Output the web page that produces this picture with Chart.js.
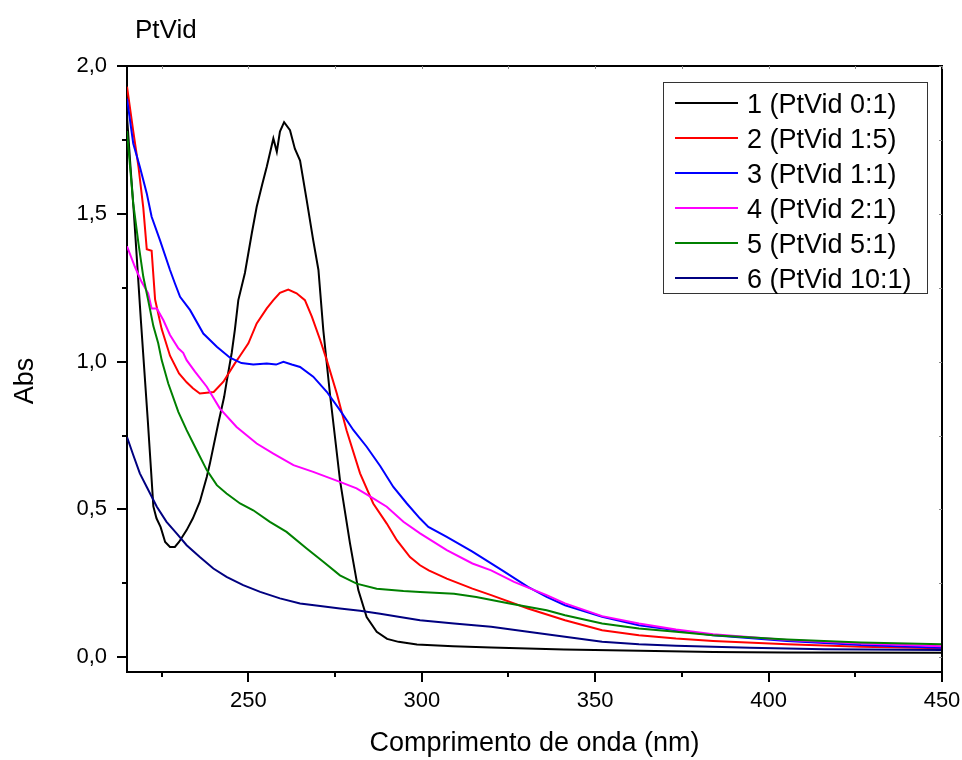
<!DOCTYPE html>
<html>
<head>
<meta charset="utf-8">
<script src="https://cdn.jsdelivr.net/npm/chart.js@4.4.1/dist/chart.umd.min.js"></script>
<style>
html, body { margin: 0; padding: 0; background: #fff; }
#wrap { width: 962px; height: 760px; }
</style>
</head>
<body>
<div id="wrap"><canvas id="spectra" width="962" height="760"></canvas></div>
<script>
// wavelengths (nm) and absorbance, one pair per sample
const wl1 = [215,216,217,218,219,220,221,222,222.6,223.5,224.7,226,227.4,228.8,230,232.2,234,236,238,238.9,241.3,243,243.7,245.2,246.1,247.1,249,251,252.4,254,255.3,257.2,258.2,259.1,260.3,262,263.4,264.9,266.8,268.7,270.2,271.6,273.5,276.4,279.3,281.7,284.1,287,290,293.3,298.6,309,320,341,363,384,405,450];
const abs1 = [1.83,1.66,1.50,1.32,1.14,0.97,0.80,0.62,0.51,0.47,0.44,0.39,0.373,0.373,0.39,0.43,0.47,0.526,0.61,0.655,0.79,0.88,0.93,1.03,1.107,1.208,1.30,1.435,1.524,1.60,1.659,1.755,1.71,1.778,1.81,1.783,1.72,1.68,1.547,1.41,1.31,1.107,0.893,0.60,0.385,0.227,0.136,0.086,0.062,0.052,0.043,0.037,0.033,0.026,0.022,0.018,0.016,0.015];

const wl2 = [215,216.8,218.3,219.7,220.7,222.1,223.1,225,227.4,230,232.2,234,236,238,240,242.8,246.1,247.6,250,252.4,255.3,257.2,259.1,261.5,263.9,266.3,268.3,270.7,272.6,275.5,278.3,282.2,286,289.9,292.8,296.6,299.5,302,307.2,314.6,320,330.6,341.3,352,362.6,373.3,384,405.3,426.6,450];
const abs2 = [1.93,1.78,1.66,1.52,1.38,1.375,1.21,1.11,1.02,0.96,0.93,0.91,0.892,0.895,0.897,0.932,0.994,1.02,1.062,1.129,1.18,1.208,1.233,1.244,1.231,1.208,1.152,1.073,1.005,0.892,0.768,0.622,0.52,0.452,0.396,0.339,0.311,0.294,0.266,0.232,0.21,0.165,0.125,0.091,0.074,0.063,0.055,0.044,0.035,0.03];

const wl3 = [215,216.8,218.7,220.7,222.1,224.5,227.4,228.8,230.3,233.2,237,240.9,244.7,248,251.4,255.3,258,260.1,262.5,264.9,268.7,272.6,276.4,280.3,284.1,288,291.8,295.7,299.5,301.9,307.2,314.6,323.2,330.6,336,341.3,352,362.6,373.3,384,405.3,426.6,450];
const abs3 = [1.89,1.738,1.659,1.569,1.49,1.411,1.31,1.265,1.219,1.174,1.095,1.05,1.013,0.995,0.99,0.994,0.99,0.999,0.99,0.982,0.949,0.898,0.836,0.768,0.712,0.647,0.576,0.52,0.469,0.441,0.407,0.357,0.294,0.238,0.204,0.176,0.137,0.108,0.091,0.074,0.055,0.041,0.032];

const wl4 = [215,217.3,219.2,221.1,222.1,223.6,225.5,227.4,229.8,231.2,232.2,234.6,238,241.8,246.6,252.4,257.2,263,268.7,276.4,281.2,286,289.9,294.7,299.5,307.2,314.6,320,326.6,336,341.3,352,362.6,373.3,384,405.3,426.6,450];
const abs4 = [1.39,1.32,1.27,1.231,1.18,1.18,1.14,1.09,1.045,1.03,1.005,0.966,0.915,0.841,0.779,0.723,0.689,0.65,0.627,0.593,0.571,0.537,0.509,0.458,0.419,0.362,0.317,0.294,0.255,0.21,0.182,0.139,0.114,0.094,0.078,0.058,0.046,0.037];

const wl5 = [215,216.8,218.3,219.7,221.1,222.6,224,225,226.9,229.8,232.2,235.1,238,240.9,243.7,247.6,251.4,256.2,261,266.8,271.6,276.4,281.2,287,294.7,299.5,309.3,315.7,325.3,336,341.3,352,362.6,373.3,384,405.3,426.6,450];
const abs5 = [1.78,1.535,1.40,1.287,1.208,1.12,1.062,1.005,0.926,0.83,0.768,0.70,0.633,0.582,0.554,0.52,0.497,0.458,0.424,0.368,0.323,0.277,0.249,0.232,0.224,0.221,0.215,0.204,0.182,0.159,0.142,0.114,0.097,0.086,0.074,0.06,0.05,0.044];

const wl6 = [215,216.8,218.7,220.7,223.6,226.4,229.3,232.2,236,239.9,243.7,248.5,253.4,259.1,264.9,270.7,276.4,282.2,288,293.7,299.5,309.3,320,330.6,341.3,352,362.6,373.3,394.6,416,450];
const abs6 = [0.745,0.684,0.622,0.576,0.509,0.458,0.419,0.379,0.339,0.30,0.272,0.244,0.221,0.199,0.182,0.173,0.165,0.157,0.147,0.136,0.125,0.114,0.103,0.086,0.069,0.052,0.044,0.039,0.032,0.027,0.024];

const seriesLabels = ['1 (PtVid 0:1)', '2 (PtVid 1:5)', '3 (PtVid 1:1)', '4 (PtVid 2:1)', '5 (PtVid 5:1)', '6 (PtVid 10:1)'];
const seriesColors = ['#000000', '#ff0000', '#0000ff', '#ff00ff', '#008000', '#000080'];
const xTicks = [250, 300, 350, 400, 450];
const xMinorTicks = [225, 275, 325, 375, 425];
const yTicks = [0, 0.5, 1.0, 1.5, 2.0];
const yMinorTicks = [0.25, 0.75, 1.25, 1.75];

const wls = [wl1, wl2, wl3, wl4, wl5, wl6];
const absVals = [abs1, abs2, abs3, abs4, abs5, abs6];

let datasets = [];
for (let i = 0; i < wls.length; i++) {
    datasets.push({
        label: seriesLabels[i],
        data: wls[i].map((w, j) => ({ x: w, y: absVals[i][j] })),
        borderColor: seriesColors[i],
        backgroundColor: seriesColors[i],
        borderWidth: 2,
        pointRadius: 0,
        showLine: true,
        tension: 0,
        order: wls.length - i
    });
}

const FONT = "'Liberation Sans', Arial, sans-serif";

// frame, minor ticks, title, y title and the boxed legend
const extras = {
    id: 'extras',
    afterDraw(chart) {
        const ctx = chart.ctx;
        const a = chart.chartArea;
        const x = chart.scales.x;
        const y = chart.scales.y;
        ctx.save();
        ctx.strokeStyle = '#000';
        ctx.lineWidth = 2;
        ctx.beginPath();
        ctx.moveTo(a.left, a.top);
        ctx.lineTo(a.right, a.top);
        ctx.lineTo(a.right, a.bottom);
        ctx.stroke();

        ctx.beginPath();
        xMinorTicks.forEach(v => {
            const px = Math.round(x.getPixelForValue(v));
            ctx.moveTo(px, a.bottom);
            ctx.lineTo(px, a.bottom + 5);
        });
        yMinorTicks.forEach(v => {
            const py = Math.round(y.getPixelForValue(v));
            ctx.moveTo(a.left, py);
            ctx.lineTo(a.left - 5, py);
        });
        ctx.stroke();

        // faint inner ticks on top and right
        ctx.strokeStyle = '#888';
        ctx.lineWidth = 1;
        ctx.beginPath();
        xTicks.concat(xMinorTicks).forEach(v => {
            const px = Math.round(x.getPixelForValue(v)) + 0.5;
            ctx.moveTo(px, a.top);
            ctx.lineTo(px, a.top + 3);
        });
        yTicks.concat(yMinorTicks).forEach(v => {
            const py = Math.round(y.getPixelForValue(v)) + 0.5;
            ctx.moveTo(a.right, py);
            ctx.lineTo(a.right - 3, py);
        });
        ctx.stroke();

        ctx.fillStyle = '#000';
        ctx.font = '26px ' + FONT;
        ctx.textAlign = 'left';
        ctx.textBaseline = 'alphabetic';
        ctx.fillText('PtVid', 135, 38);

        ctx.save();
        ctx.translate(33, 381);
        ctx.rotate(-Math.PI / 2);
        ctx.textAlign = 'center';
        ctx.font = '27px ' + FONT;
        ctx.fillText('Abs', 0, 0);
        ctx.restore();

        // legend
        ctx.strokeStyle = '#333';
        ctx.lineWidth = 1;
        ctx.fillStyle = '#fff';
        ctx.fillRect(663, 82, 264, 211);
        ctx.strokeRect(663.5, 82.5, 264, 211);
        ctx.font = '27px ' + FONT;
        chart.data.datasets.forEach((ds, i) => {
            const base = 113 + i * 35;
            ctx.strokeStyle = ds.borderColor;
            ctx.lineWidth = 2;
            ctx.beginPath();
            ctx.moveTo(675, base - 10);
            ctx.lineTo(738, base - 10);
            ctx.stroke();
            ctx.fillStyle = '#000';
            ctx.fillText(ds.label, 747, base);
        });
        ctx.restore();
    }
};

const spectraChart = new Chart(document.getElementById('spectra').getContext('2d'), {
    type: 'scatter',
    data: { datasets: datasets },
    options: {
        responsive: false,
        animation: false,
        devicePixelRatio: 1,
        layout: { padding: { left: 0, right: 20, top: 66, bottom: 0 } },
        plugins: {
            legend: { display: false },
            tooltip: { enabled: false }
        },
        scales: {
            x: {
                type: 'linear',
                min: 215,
                max: 450,
                afterBuildTicks: s => { s.ticks = xTicks.map(v => ({ value: v })); },
                afterFit: s => { s.height = 88; s.paddingLeft = 0; s.paddingRight = 0; },
                grid: { drawOnChartArea: false, drawTicks: true, tickLength: 10, color: '#000', lineWidth: 2 },
                border: { display: true, color: '#000', width: 2 },
                ticks: { color: '#000', font: { size: 22, family: FONT }, padding: 6, maxRotation: 0 },
                title: { display: true, text: 'Comprimento de onda (nm)', color: '#000', font: { size: 27, family: FONT }, padding: { top: 0, bottom: 0 } }
            },
            y: {
                type: 'linear',
                min: -0.05,
                max: 2.0,
                afterBuildTicks: s => { s.ticks = yTicks.map(v => ({ value: v })); },
                afterFit: s => { s.width = 127; s.paddingTop = 0; s.paddingBottom = 0; },
                grid: { drawOnChartArea: false, drawTicks: true, tickLength: 10, color: '#000', lineWidth: 2 },
                border: { display: true, color: '#000', width: 2 },
                ticks: {
                    color: '#000',
                    font: { size: 22, family: FONT },
                    padding: 10,
                    callback: v => v.toFixed(1).replace('.', ',')
                }
            }
        }
    },
    plugins: [extras]
});
</script>
</body>
</html>
